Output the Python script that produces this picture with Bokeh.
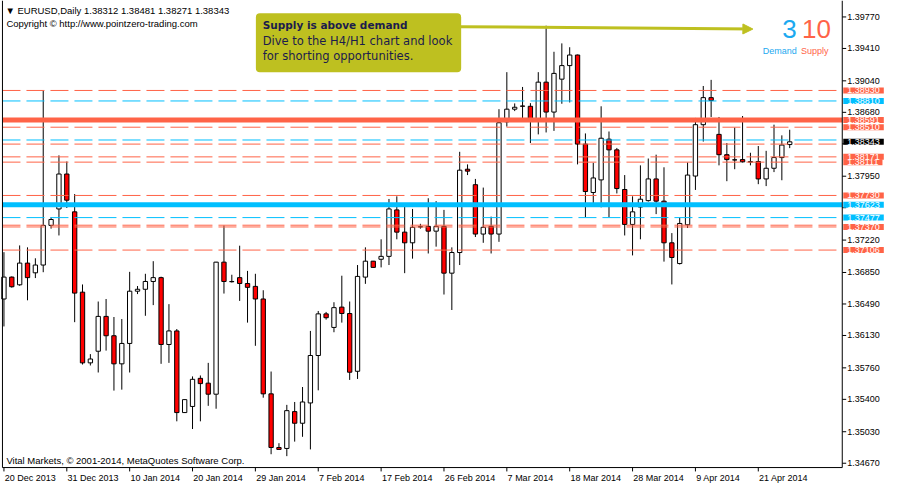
import numpy as np
from bokeh.plotting import figure
from bokeh.models import Range1d, Label, ColumnDataSource, BoxAnnotation, Arrow, NormalHead
from bokeh.core.properties import value
from bokeh.embed import file_html
from bokeh.resources import INLINE

# ---------------- data (EURUSD daily) ----------------
opens = [1.36547, 1.36797, 1.36709, 1.36957, 1.36846, 1.36935, 1.37388, 1.37576, 1.37975, 1.37543,
         1.36625, 1.35817, 1.35950, 1.36348, 1.36127, 1.35806, 1.36039, 1.36636, 1.36658, 1.36747,
         1.36791, 1.36027, 1.36182, 1.35249, 1.35319, 1.35640, 1.35585, 1.35459, 1.36968, 1.36744,
         1.36791, 1.36724, 1.36691, 1.36547, 1.35463, 1.34850, 1.34839, 1.35260, 1.35127, 1.35359,
         1.35901, 1.36377, 1.36222, 1.36454, 1.36381, 1.35721, 1.36797, 1.36979, 1.37001, 1.37034,
         1.37565, 1.37311, 1.37189, 1.37370, 1.37377, 1.37322, 1.37377, 1.36842, 1.37078, 1.38030,
         1.37853, 1.37289, 1.37377, 1.37289, 1.38572, 1.38716, 1.38752, 1.38749, 1.38583, 1.39025,
         1.38683, 1.39059, 1.39214, 1.39335, 1.38317, 1.37764, 1.37908, 1.38373, 1.38251, 1.37798,
         1.37399, 1.37598, 1.37671, 1.37919, 1.37665, 1.37189, 1.36952, 1.37395, 1.37952, 1.38539,
         1.38848, 1.38428, 1.38196, 1.38137, 1.38140, 1.38115, 1.38118, 1.37919, 1.38041, 1.38163,
         1.38312]
closes = [1.36797, 1.36687, 1.36957, 1.36791, 1.36935, 1.37388, 1.37455, 1.37975, 1.37676, 1.36614,
          1.35817, 1.35861, 1.36348, 1.36127, 1.35806, 1.36039, 1.36636, 1.36658, 1.36747, 1.36791,
          1.36027, 1.36182, 1.35249, 1.35397, 1.35629, 1.35580, 1.35459, 1.36968, 1.36747, 1.36747,
          1.36724, 1.36680, 1.36547, 1.35463, 1.34850, 1.34828, 1.35271, 1.35127, 1.35370, 1.35901,
          1.36377, 1.36333, 1.36448, 1.36381, 1.35710, 1.36805, 1.36979, 1.36908, 1.37034, 1.37576,
          1.37311, 1.37189, 1.37366, 1.37373, 1.37322, 1.37377, 1.36842, 1.37078, 1.38019, 1.38008,
          1.37289, 1.37366, 1.37289, 1.38561, 1.38716, 1.38738, 1.38750, 1.38594, 1.39025, 1.38683,
          1.39125, 1.39214, 1.39335, 1.38317, 1.37775, 1.37930, 1.38384, 1.38251, 1.37809, 1.37399,
          1.37543, 1.37687, 1.37919, 1.37665, 1.37189, 1.37021, 1.37410, 1.37963, 1.38539, 1.38848,
          1.38815, 1.38196, 1.38140, 1.38136, 1.38114, 1.38113, 1.37919, 1.38041, 1.38163, 1.38306,
          1.38343]
highs = [1.37082, 1.36805, 1.37159, 1.37137, 1.37012, 1.38926, 1.37480, 1.38188, 1.38118, 1.37746,
         1.36713, 1.35917, 1.36518, 1.36547, 1.36341, 1.36318, 1.36857, 1.36695, 1.36835, 1.36979,
         1.36802, 1.36488, 1.36204, 1.35400, 1.35662, 1.35673, 1.35817, 1.36971, 1.37388, 1.36824,
         1.37156, 1.36868, 1.36835, 1.36647, 1.35718, 1.34899, 1.35337, 1.35370, 1.35541, 1.36182,
         1.36410, 1.36399, 1.36510, 1.36813, 1.36518, 1.36935, 1.37137, 1.36982, 1.37229, 1.37690,
         1.37720, 1.37621, 1.37576, 1.37406, 1.37698, 1.37665, 1.37565, 1.37137, 1.38229, 1.38085,
         1.37919, 1.37820, 1.37488, 1.38716, 1.39139, 1.38782, 1.38970, 1.38785, 1.39139, 1.39670,
         1.39372, 1.39468, 1.39424, 1.39340, 1.38439, 1.38103, 1.38749, 1.38461, 1.38273, 1.37963,
         1.37720, 1.38074, 1.38152, 1.38196, 1.38052, 1.37300, 1.37477, 1.38107, 1.38616, 1.38981,
         1.39051, 1.38627, 1.38329, 1.38506, 1.38638, 1.38218, 1.38295, 1.38240, 1.38539, 1.38417,
         1.38481]
lows = [1.36233, 1.36676, 1.36698, 1.36532, 1.36786, 1.36853, 1.37351, 1.37273, 1.37587, 1.36282,
        1.35798, 1.35787, 1.35707, 1.35957, 1.35500, 1.35511, 1.35707, 1.36603, 1.36355, 1.36477,
        1.35806, 1.35817, 1.35149, 1.35245, 1.35061, 1.35149, 1.35326, 1.35293, 1.36609, 1.36735,
        1.36525, 1.36277, 1.36012, 1.35419, 1.34773, 1.34828, 1.34751, 1.34917, 1.34972, 1.34828,
        1.35503, 1.36311, 1.36167, 1.36277, 1.35622, 1.35633, 1.36720, 1.36905, 1.36908, 1.36935,
        1.37229, 1.36842, 1.37008, 1.37351, 1.37067, 1.37145, 1.36598, 1.36421, 1.36935, 1.37963,
        1.37255, 1.37189, 1.37067, 1.37200, 1.38517, 1.38694, 1.38605, 1.38329, 1.38428, 1.38450,
        1.38468, 1.38778, 1.38793, 1.38085, 1.37483, 1.37638, 1.37594, 1.37483, 1.37753, 1.37273,
        1.37045, 1.37229, 1.37660, 1.37517, 1.36974, 1.36713, 1.36941, 1.37358, 1.37793, 1.38346,
        1.38627, 1.38074, 1.37893, 1.38030, 1.38107, 1.38074, 1.37859, 1.37837, 1.37997, 1.37904,
        1.38271]

date_tick_labels = ["20 Dec 2013", "31 Dec 2013", "10 Jan 2014", "20 Jan 2014", "29 Jan 2014",
                    "7 Feb 2014", "17 Feb 2014", "26 Feb 2014", "7 Mar 2014", "18 Mar 2014",
                    "28 Mar 2014", "9 Apr 2014", "21 Apr 2014"]
bars_per_date_tick = 8
price_ticks = [1.39770, 1.39410, 1.39040, 1.38680, 1.38320, 1.37950, 1.37590, 1.37220,
               1.36850, 1.36490, 1.36130, 1.35760, 1.35400, 1.35030, 1.34670]

supply_levels = [1.38930, 1.38510, 1.38591, 1.38317, 1.38111, 1.38171, 1.37730, 1.37390, 1.37370, 1.37106]
supply_key = 1.38591
demand_levels = [1.38810, 1.38364, 1.37623, 1.37477]
demand_key = 1.37623
last_price = 1.38343
demand_count = 3
supply_count = 10

header_text = "\u25BC EURUSD,Daily  1.38312 1.38481 1.38271 1.38343"
copyright_text = "Copyright \u00A9 http://www.pointzero-trading.com"
footer_text = "Vital Markets, \u00A9 2001-2014, MetaQuotes Software Corp."
callout_title = "Supply is above demand"
callout_lines = ["Dive to the H4/H1 chart and look", "for shorting opportunities."]

# ---------------- styling / layout ----------------
SUPPLY = "#FF6347"
DEMAND = "#00BFFF"
COUNT_BLUE = "#1CA9F0"
OLIVE = "#BEC020"
NAVY = "#1c1c4c"
FONT = "Liberation Sans"

# data value at the top-left of the canvas and data units per (reference) pixel
X0, Y0 = -0.4375, 1.39958
UX, UY = 0.125, 0.00011062


def dx(px):
    return X0 + px * UX


def dy(py):
    return Y0 - py * UY


CL, CR, CT, CB = dx(2), dx(857), dy(0), dy(482.5)   # chart box

p = figure(width=884, height=484, x_range=Range1d(dx(0), dx(900)), y_range=Range1d(dy(500), dy(0)),
           output_backend="svg", toolbar_location=None, x_axis_type=None, y_axis_type=None,
           min_border=0, min_border_left=0, min_border_right=0, min_border_top=0, min_border_bottom=0)
p.grid.visible = False
p.outline_line_color = None
p.background_fill_color = "white"
p.border_fill_color = "white"

# ---------------- candles ----------------
n = len(opens)
idx = np.arange(n)
o = np.array(opens); c = np.array(closes)
src = ColumnDataSource(dict(
    x=idx, high=highs, low=lows,
    top=np.maximum(o, c), bottom=np.minimum(o, c),
    color=np.where(c < o, "#FF0000", "#FFFFFF"),
))
p.segment(x0="x", y0="low", x1="x", y1="high", source=src, line_color="black", line_width=1)
p.vbar(x="x", top="top", bottom="bottom", width=0.55, source=src,
       fill_color="color", line_color="black", line_width=1)

# ---------------- supply / demand levels ----------------
def level_lines(levels, key, color):
    thin = [lv for lv in levels if lv != key]
    p.segment(x0=[CL] * len(thin), x1=[CR] * len(thin), y0=thin, y1=thin,
              line_color=color, line_width=1, line_dash="18 6")
    p.segment(x0=[CL], x1=[CR], y0=[key], y1=[key], line_color=color, line_width=5)

level_lines(demand_levels, demand_key, DEMAND)
level_lines(supply_levels, supply_key, SUPPLY)

# ---------------- chart frame and axes ----------------
p.segment(x0=[CL, CL, CR], y0=[CT, CB, CT], x1=[CL, CR, CR], y1=[CB, CB, CB],
          line_color="black", line_width=1)

# price axis (right)
tag_levels = demand_levels + supply_levels + [last_price]
shown_ticks = [t for t in price_ticks if min(abs(t - lv) for lv in tag_levels) > 0.0004]
p.segment(x0=[CR] * len(price_ticks), x1=[CR + 4 * UX] * len(price_ticks),
          y0=price_ticks, y1=price_ticks, line_color="black", line_width=1)
p.text(x=[CR + 5 * UX] * len(shown_ticks), y=shown_ticks, text=[f"{t:.5f}" for t in shown_ticks],
       text_align="left", text_baseline="middle", text_font=value(FONT), text_font_size="9px",
       text_color="black")

# date axis (bottom)
date_ticks = list(range(0, bars_per_date_tick * len(date_tick_labels), bars_per_date_tick))
p.segment(x0=date_ticks, x1=date_ticks, y0=[CB] * len(date_ticks), y1=[CB - 4 * UY] * len(date_ticks),
          line_color="black", line_width=1)
p.text(x=[t + 0.1 for t in date_ticks], y=[CB - 11 * UY] * len(date_ticks), text=date_tick_labels,
       text_align="left", text_baseline="middle", text_font=value(FONT), text_font_size="9px",
       text_color="black")

# ---------------- price tags ----------------
def tag(lv, color):
    p.add_layout(Label(x=CR, y=lv, text=f"{lv:.5f}", x_offset=1, text_align="left",
                       text_baseline="middle", text_color="white", text_font=FONT,
                       text_font_size="9px", background_fill_color=color, padding=(4, 0)))

ordered = [(lv, DEMAND) for lv in demand_levels] + [(lv, SUPPLY) for lv in supply_levels] + [(last_price, "black")]
for k, (lv, col) in enumerate(ordered):
    later = [l2 for l2, _ in ordered[k + 1:]]
    if later and min(abs(lv - l2) for l2 in later) < 0.0003:
        continue  # fully covered by a later tag in the original
    tag(lv, col)

# ---------------- texts ----------------
def txt(px, py, s, size="9px", color="black", style="normal", font=FONT):
    p.add_layout(Label(x=dx(px), y=dy(py), text=s, text_align="left", text_baseline="middle",
                       text_font=font, text_font_size=size, text_color=color,
                       text_font_style=style))

txt(5, 10.5, header_text, size="9.5px")
txt(6, 23.5, copyright_text, size="9.5px")
txt(6, 475, footer_text, size="9.5px")

# callout
p.add_layout(BoxAnnotation(left=dx(260), right=dx(469), top=dy(13.3), bottom=dy(74),
                           fill_color=OLIVE, fill_alpha=1.0, line_color=None, border_radius=4))
p.add_layout(Arrow(x_start=dx(468), y_start=dy(27), x_end=dx(766), y_end=dy(29.5),
                   line_color=OLIVE, line_width=3,
                   end=NormalHead(size=10, fill_color=OLIVE, line_color=OLIVE)))
txt(267, 25, callout_title, size="10.5px", color=NAVY, style="bold", font="DejaVu Sans")
txt(267, 41.5, callout_lines[0], size="11.5px", color=NAVY, font="DejaVu Sans")
txt(267, 57.5, callout_lines[1], size="11.5px", color=NAVY, font="DejaVu Sans")

# counters
txt(796, 29, str(demand_count), size="26px", color=COUNT_BLUE)
txt(816, 29, str(supply_count), size="26px", color=SUPPLY)
txt(776, 52, "Demand", size="9px", color=COUNT_BLUE)
txt(815, 52, "Supply", size="9px", color=SUPPLY)

open("out.html", "w").write(file_html(p, INLINE))
